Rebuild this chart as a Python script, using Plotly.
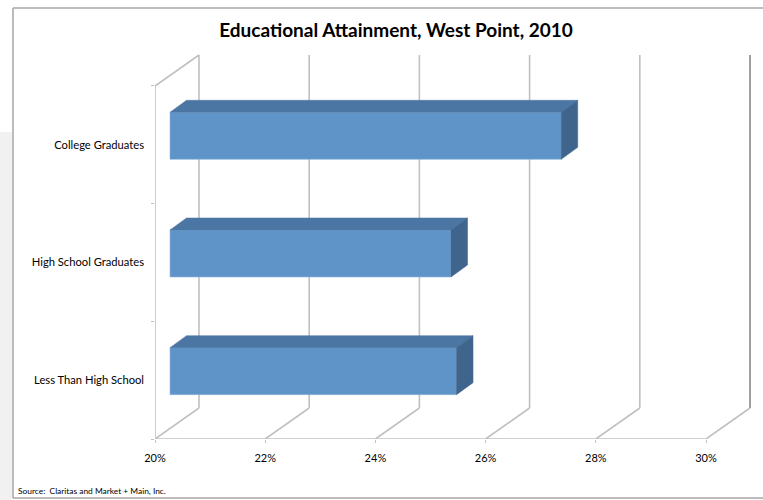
import plotly.graph_objects as go

# ---------------- data ----------------
categories = ["Less Than High School", "High School Graduates", "College Graduates"]
values = [25.2, 25.1, 27.1]          # percent
x_ticks = [20, 22, 24, 26, 28, 30]
x_tick_labels = ["20%", "22%", "24%", "26%", "28%", "30%"]
title_text = "Educational Attainment, West Point, 2010"
source_text = "Source:  Claritas and Market + Main, Inc."

# ---------------- geometry ----------------
W, H = 763, 500
L, R, T, B = 155, 8, 50, 61
plot_w = W - L - R
plot_h = H - T - B
PX_PER_X = 55.1
X0 = x_ticks[0]
X1 = x_ticks[-1]
PX_PER_CAT = 117.67
n = len(categories)
x_range = [X0, X0 + plot_w / PX_PER_X]
y_range = [0, plot_h / PX_PER_CAT]


def dx(px):
    return px / PX_PER_X


def dy(px):
    return px / PX_PER_CAT


def xp(px):
    return (px - L) / plot_w


def yp(py):
    return (H - B - py) / plot_h


WALL_DX, WALL_DY = dx(44), dy(31)
BAR_OFF_X, BAR_OFF_Y = dx(15), dy(9)
BAR_DEPTH_X, BAR_DEPTH_Y = dx(16.5), dy(12)
BAR_HALF = dy(23.5)

FONT = "Lato, Carlito, Calibri, sans-serif"
GRID = "#C0C0C0"
FRONT = "#5E94C8"
TOP = "#4B75A2"
SIDE = "#40658C"

fig = go.Figure()

shapes = [
    # slide background strip on the left
    dict(type="rect", xref="paper", yref="paper", x0=xp(-2), x1=xp(12.5), y0=yp(132), y1=yp(H + 2),
         fillcolor="#F1F1F1", line=dict(width=0), layer="below"),
    # chart border
    dict(type="line", xref="paper", yref="paper", x0=xp(13), x1=xp(13), y0=yp(8), y1=yp(498),
         line=dict(color="#A6A6A6", width=1.5)),
    dict(type="line", xref="paper", yref="paper", x0=xp(13), x1=xp(W + 5), y0=yp(8), y1=yp(8),
         line=dict(color="#A6A6A6", width=1.5)),
    dict(type="line", xref="paper", yref="paper", x0=xp(13), x1=xp(W + 5), y0=yp(498), y1=yp(498),
         line=dict(color="#A6A6A6", width=1.5)),
]


def grid_line(x0, y0, x1, y1, color=GRID, width=1.6):
    shapes.append(dict(type="line", xref="x", yref="y", x0=x0, y0=y0, x1=x1, y1=y1,
                       line=dict(color=color, width=width), layer="below"))


# ---------- walls / floor ----------
for t in x_ticks[:-1]:
    grid_line(t + WALL_DX, WALL_DY, t + WALL_DX, n + WALL_DY)      # back wall vertical
for t in x_ticks:
    grid_line(t, 0, t + WALL_DX, WALL_DY)                          # floor diagonal
grid_line(X0, 0, X1, 0)                                            # front axis line
grid_line(X0, 0, X0, n)                                            # left wall front edge
grid_line(X0, n, X0 + WALL_DX, n + WALL_DY)                        # left wall top edge
grid_line(X1 + WALL_DX, WALL_DY, X1 + WALL_DX, n + WALL_DY, color="#A0A0A0", width=2)

# ---------- bars ----------
centers = [i + 0.5 + BAR_OFF_Y for i in range(n)]
fig.add_trace(go.Bar(
    orientation="h",
    y=centers,
    x=[v - X0 for v in values],
    base=X0 + BAR_OFF_X,
    width=2 * BAR_HALF,
    marker=dict(color=FRONT, line=dict(color="#8DB3DB", width=0.6)),
    hoverinfo="skip", showlegend=False,
))

for c, v in zip(centers, values):
    xs = X0 + BAR_OFF_X
    xe = v + BAR_OFF_X
    yt = c + BAR_HALF
    yb = c - BAR_HALF
    # top face
    fig.add_trace(go.Scatter(
        x=[xs, xe, xe + BAR_DEPTH_X, xs + BAR_DEPTH_X, xs],
        y=[yt, yt, yt + BAR_DEPTH_Y, yt + BAR_DEPTH_Y, yt],
        mode="lines", fill="toself", fillcolor=TOP,
        line=dict(color=TOP, width=0.5),
        hoverinfo="skip", showlegend=False))
    # side face
    fig.add_trace(go.Scatter(
        x=[xe, xe, xe + BAR_DEPTH_X, xe + BAR_DEPTH_X, xe],
        y=[yb, yt, yt + BAR_DEPTH_Y, yb + BAR_DEPTH_Y, yb],
        mode="lines", fill="toself", fillcolor=SIDE,
        line=dict(color=SIDE, width=0.5),
        hoverinfo="skip", showlegend=False))

# ---------- layout ----------
fig.update_layout(
    width=W, height=H,
    margin=dict(l=L, r=R, t=T, b=B),
    paper_bgcolor="white", plot_bgcolor="rgba(0,0,0,0)",
    font=dict(family=FONT, color="#000000"),
    title=dict(text=title_text, x=396 / W, xanchor="center", y=1 - 30 / H, yanchor="middle",
               xref="container", yref="container",
               font=dict(family=FONT, size=19, weight=700, color="#000000")),
    barmode="overlay",
    showlegend=False,
    shapes=shapes,
    annotations=[dict(text=source_text, xref="paper", yref="paper", x=xp(16), y=yp(491),
                      xanchor="left", yanchor="middle", showarrow=False,
                      font=dict(family=FONT, size=8.4, color="#000000"))],
    xaxis=dict(range=x_range, showgrid=False, zeroline=False, showline=False,
               tickmode="array", tickvals=x_ticks, ticktext=x_tick_labels,
               ticks="outside", ticklen=3, tickcolor=GRID, tickwidth=1,
               tickfont=dict(size=11, family=FONT), ticklabelstandoff=6, fixedrange=True),
    yaxis=dict(range=y_range, showgrid=False, zeroline=False, showline=False,
               tickmode="array", tickvals=[i + 0.5 for i in range(n)], ticktext=categories,
               ticks="", tickfont=dict(size=11.2, family=FONT), ticklabelstandoff=10,
               minor=dict(tickmode="array", tickvals=list(range(n + 1)), ticks="outside",
                          ticklen=3, tickcolor=GRID, tickwidth=1),
               fixedrange=True),
)

fig.write_html("out.html", config={"displayModeBar": False},
               post_script="document.body.style.margin='0px';")
